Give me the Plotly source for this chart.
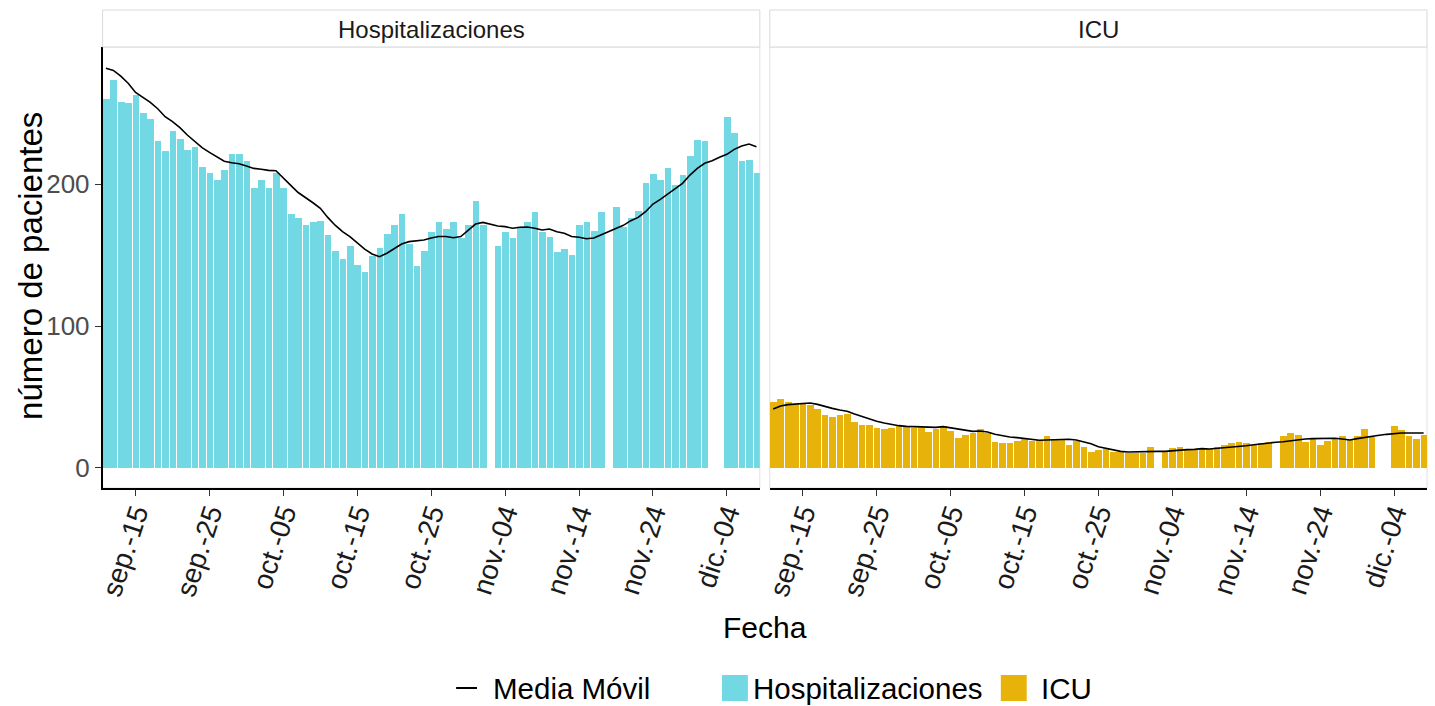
import datetime as dt
import plotly.graph_objects as go

# ---------------- data ----------------
start = dt.date(2020, 9, 11)
dates = [(start + dt.timedelta(days=i)).isoformat() for i in range(89)]  # Sep 11 .. Dec 8

hosp = [260, 273, 258, 257, 263, 250, 246, 230, 223, 237, 232, 224, 226, 212, 208, 203, 210, 221, 221, 216,
        197, 203, 197, 208, 197, 179, 176, 171, 173, 174, 164, 153, 147, 156, 143, 138, 149, 155, 165, 171,
        179, 158, 142, 153, 166, 173, 168, 173, 162, 171, 188, 171, None, 156, 166, 162, 169, 173, 180, 166,
        163, 152, 154, 150, 171, 173, 167, 180, None, 184, 170, 176, 181, 201, 207, 203, 211, 199, 206, 220,
        231, 230, None, None, 247, 236, 216, 217, 208]

hosp_ma = [281.5, 280, 276, 271, 264.5, 261, 257.5, 253, 247.4, 244, 239.7, 234.5, 230, 225.6, 222.3, 219.3,
           216, 215, 214.3, 212.7, 211, 210.4, 209.6, 209.4, 204, 199, 194, 190.6, 186.8, 182.9, 176.5, 171,
           166.4, 162.9, 158.7, 154.2, 150.7, 148.8, 151.2, 154.7, 157.7, 159.4, 159.9, 160.6, 162, 163, 163,
           162.2, 163, 167.6, 171.8, 173, 171.6, 170.4, 170, 168.8, 169.5, 169.7, 168.8, 167.6, 168.3, 166.4,
           165.3, 163, 162.5, 161.5, 162, 164.3, 166.7, 169, 170.9, 174.2, 176.5, 180.5, 185.9, 189.2, 193,
           196.3, 200.5, 206.3, 211, 214.6, 216.4, 218.8, 220.9, 224.4, 226.8, 228.2, 226.3]

icu = [46.5, 48.4, 46.5, 45, 45, 44.4, 41.3, 37.6, 36.2, 37.3, 38.3, 32.2, 30.5, 30.5, 28.4, 27.2, 28.4, 29.3,
       28.6, 28.4, 28, 25.4, 27.2, 29.3, 26.3, 21.1, 23.5, 24.9, 27.2, 24.4, 18.3, 17.4, 17.4, 19.2, 20.2, 19.2,
       19.7, 22.3, 19.7, 19.7, 16.2, 19.2, 15, 11.3, 12.4, 13.1, 11.5, 11.3, 10.3, 10.3, 10.8, 15, None, 12, 14.3,
       15, 13.1, 12.7, 13.1, 13.1, 15, 16, 17.4, 18.3, 17.4, 16, 17.8, 18.3, None, 22.3, 24.4, 23.2, 18.5, 20.2,
       16.2, 19.2, 20.2, 22.3, 19.7, 22.5, 27.2, 22, None, None, 29.3, 26.5, 22.5, 20.4, 23.2]

icu_ma = [41.5, 43.7, 44.6, 45.1, 45.8, 45.8, 44.8, 43.2, 42, 40.8, 39.9, 38, 36.2, 34.5, 32.9, 31.7, 30.5,
          29.8, 29.3, 29.1, 28.9, 28.6, 28.6, 29.1, 28.2, 27.2, 26.3, 25.8, 26, 25.4, 23.7, 22.5, 21.8, 21.4,
          20.7, 19.7, 19.5, 19.7, 19.9, 20.2, 20.2, 19.7, 18.5, 17.1, 15, 13.8, 12.7, 11.7, 11.3, 11.5, 11.5,
          11.7, 11.7, 11.7, 12.2, 12.7, 12.9, 13.1, 13.6, 13.4, 13.8, 14.1, 14.6, 15, 15.7, 16.4, 17.1, 17.6,
          18.1, 18.5, 19.2, 19.9, 20.4, 20.7, 20.9, 20.9, 20.9, 20.4, 19.7, 20.7, 21.6, 22.3, 23, 23.7, 24.4,
          24.6, 24.6, 24.6, 24.6]

tick_dates = ["2020-09-15", "2020-09-25", "2020-10-05", "2020-10-15", "2020-10-25",
              "2020-11-04", "2020-11-14", "2020-11-24", "2020-12-04"]
tick_labels = ["sep.-15", "sep.-25", "oct.-05", "oct.-15", "oct.-25",
               "nov.-04", "nov.-14", "nov.-24", "dic.-04"]
panels = ["Hospitalizaciones", "ICU"]
legend_labels = ["Media Móvil", "Hospitalizaciones", "ICU"]

# ---------------- style ----------------
W, H = 1435, 706
FONT = "Liberation Sans, Arial, sans-serif"
C_HOSP = "#71D8E4"
C_ICU = "#E7B30A"
DAY_MS = 86400000

def px_x(p):
    return p / W

def px_y(p):
    return (H - p) / H

fig = go.Figure()

fig.add_trace(go.Bar(x=dates, y=hosp, width=DAY_MS * 0.9, marker=dict(color=C_HOSP, line=dict(width=0)),
                     xaxis="x", yaxis="y", showlegend=False, name=panels[0]))
fig.add_trace(go.Scatter(x=dates, y=hosp_ma, mode="lines", line=dict(color="black", width=1.6),
                         xaxis="x", yaxis="y", showlegend=False, name=legend_labels[0]))
fig.add_trace(go.Bar(x=dates, y=icu, width=DAY_MS * 0.9, marker=dict(color=C_ICU, line=dict(width=0)),
                     xaxis="x2", yaxis="y2", showlegend=False, name=panels[1]))
fig.add_trace(go.Scatter(x=dates, y=icu_ma, mode="lines", line=dict(color="black", width=1.6),
                         xaxis="x2", yaxis="y2", showlegend=False, name=legend_labels[0]))

xrange = ["2020-09-10 13:00", "2020-12-08 11:00"]
yrange = [-14.1, 296.5]
ydom = [px_y(488), px_y(47)]
xd1 = [px_x(97), px_x(757)]
xd2 = [px_x(767), px_x(1427)]

xcommon = dict(type="date", range=xrange, tickvals=tick_dates, ticktext=tick_labels, tickangle=-72,
               ticks="outside", ticklen=6, tickwidth=1.2, tickcolor="#333333", showline=True,
               linecolor="black", linewidth=1.6, showgrid=False, zeroline=False, ticklabelstandoff=-10,
               tickfont=dict(family=FONT, size=28, color="#1a1a1a"))

fig.update_layout(
    width=W, height=H, margin=dict(l=0, r=0, t=0, b=0),
    paper_bgcolor="white", plot_bgcolor="white",
    bargap=0, barmode="overlay",
    xaxis=dict(domain=xd1, anchor="y", **xcommon),
    xaxis2=dict(domain=xd2, anchor="y2", **xcommon),
    yaxis=dict(domain=ydom, range=yrange, tickvals=[0, 100, 200], ticks="outside", ticklen=6,
               tickwidth=1.2, tickcolor="#333333", showline=True, linecolor="black", linewidth=1.6,
               showgrid=False, zeroline=False, anchor="x",
               tickfont=dict(family=FONT, size=26, color="#4d4d4d")),
    yaxis2=dict(domain=ydom, range=yrange, matches="y", anchor="x2", showticklabels=False, ticks="",
                showline=False, showgrid=False, zeroline=False),
    showlegend=False,
)

shapes = []
annotations = []
# panel outlines (light, below data)
for xd in (xd1, xd2):
    shapes.append(dict(type="rect", xref="paper", yref="paper", x0=xd[0], x1=xd[1], y0=ydom[0], y1=ydom[1],
                       line=dict(color="#e0e0e0", width=1), layer="below"))
# strips
for xd, lab in zip((xd1, xd2), panels):
    shapes.append(dict(type="rect", xref="paper", yref="paper", x0=xd[0], x1=xd[1], y0=px_y(47), y1=px_y(10),
                       line=dict(color="#d9d9d9", width=1), fillcolor="white"))
    annotations.append(dict(text=lab, xref="paper", yref="paper", x=(xd[0] + xd[1]) / 2, y=px_y(29),
                            showarrow=False, xanchor="center", yanchor="middle",
                            font=dict(family=FONT, size=24, color="#1a1a1a")))

# axis titles
annotations.append(dict(text="Fecha", xref="paper", yref="paper", x=px_x(762), y=px_y(627), showarrow=False,
                        xanchor="center", yanchor="middle", font=dict(family=FONT, size=30, color="black")))
annotations.append(dict(text="número de pacientes", xref="paper", yref="paper", x=px_x(24), y=px_y(266),
                        showarrow=False, textangle=-90, xanchor="center", yanchor="middle",
                        font=dict(family=FONT, size=33, color="black")))

# legend (manual)
ly = px_y(688)
LF = 29.5
shapes.append(dict(type="line", xref="paper", yref="paper", x0=px_x(452), x1=px_x(473), y0=ly, y1=ly,
                   line=dict(color="black", width=2)))
annotations.append(dict(text=legend_labels[0], xref="paper", yref="paper", x=px_x(487), y=ly, showarrow=False,
                        xanchor="left", yanchor="middle", font=dict(family=FONT, size=LF, color="black")))
shapes.append(dict(type="rect", xref="paper", yref="paper", x0=px_x(719), x1=px_x(745), y0=px_y(701),
                   y1=px_y(675), line=dict(width=0), fillcolor=C_HOSP))
annotations.append(dict(text=legend_labels[1], xref="paper", yref="paper", x=px_x(748), y=ly, showarrow=False,
                        xanchor="left", yanchor="middle", font=dict(family=FONT, size=LF, color="black")))
shapes.append(dict(type="rect", xref="paper", yref="paper", x0=px_x(999), x1=px_x(1025), y0=px_y(701),
                   y1=px_y(675), line=dict(width=0), fillcolor=C_ICU))
annotations.append(dict(text=legend_labels[2], xref="paper", yref="paper", x=px_x(1037), y=ly, showarrow=False,
                        xanchor="left", yanchor="middle", font=dict(family=FONT, size=LF, color="black")))

fig.update_layout(shapes=shapes, annotations=annotations)
fig.write_html("out.html", config={"displayModeBar": False},
               post_script="document.body.style.margin='0';document.body.style.overflow='hidden';")
